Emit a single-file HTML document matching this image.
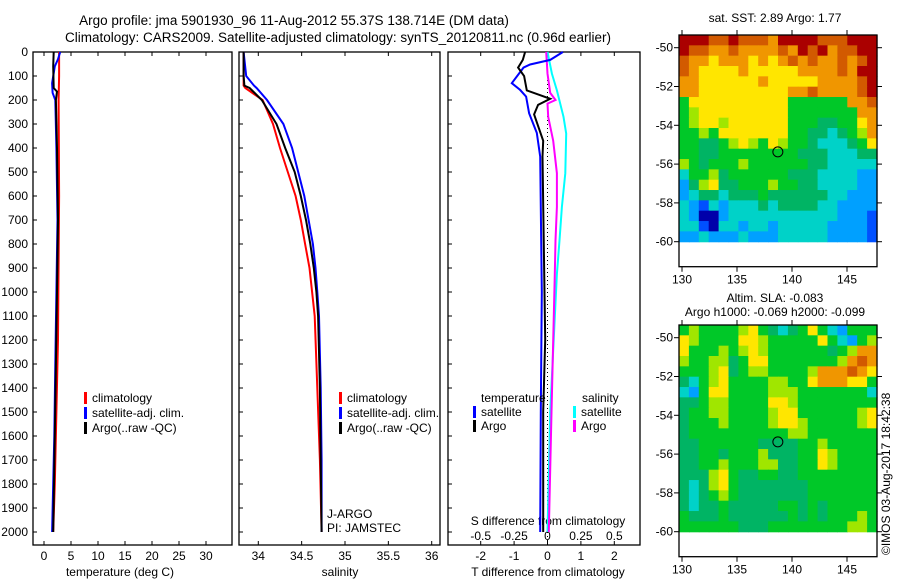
<!DOCTYPE html>
<html><head><meta charset="utf-8"><style>
body{margin:0;background:#fff}
svg{display:block;font-family:"Liberation Sans",sans-serif}
text{font-size:12px;fill:#000}
</style></head><body>
<svg id="c" width="900" height="580" viewBox="0 0 900 580">
<text x="294" y="25" text-anchor="middle" style="font-size:13.5px">Argo profile: jma 5901930_96 11-Aug-2012 55.37S 138.714E (DM data)</text>
<text x="338" y="42" text-anchor="middle" style="font-size:13.5px">Climatology: CARS2009. Satellite-adjusted climatology: synTS_20120811.nc (0.96d earlier)</text>
<text x="775" y="22" text-anchor="middle">sat. SST: 2.89 Argo: 1.77</text>
<text x="775" y="302" text-anchor="middle">Altim. SLA: -0.083</text>
<text x="775" y="316" text-anchor="middle">Argo h1000: -0.069 h2000: -0.099</text>
<text transform="translate(890,555) rotate(-90)">©IMOS 03-Aug-2017 18:42:38</text>
</svg>
<script>
const NS='http://www.w3.org/2000/svg';
const svg=document.getElementById('c');
function el(tag,attrs,parent){const e=document.createElementNS(NS,tag);for(const k in attrs)e.setAttribute(k,attrs[k]);(parent||svg).appendChild(e);return e;}
function txt(x,y,s,anchor,parent){const t=el('text',{x:x,y:y,'text-anchor':anchor||'start'},parent);t.textContent=s;return t;}

// ---- data ----
const depthTicks=[0,100,200,300,400,500,600,700,800,900,1000,1100,1200,1300,1400,1500,1600,1700,1800,1900,2000];
const tempTicks=[0,5,10,15,20,25,30];
const salTicks=[34,34.5,35,35.5,36];
const tdiffTicks=[-2,-1,0,1,2];
const sdiffTicks=[-0.5,-0.25,0,0.25,0.5];
const sdiffLabels=['-0.5','-0.25','0','0.25','0.5'];

const tClimD=[0,100,200,600,1200,1500,1800,2000];
const tClim=[2.8,2.8,2.7,2.8,2.6,2.3,2.0,1.7];
const tSatD=[0,30,60,130,170,200,400,700,1000,1300,1600,2000];
const tSat=[3.0,2.6,2.0,1.5,1.6,2.1,2.3,2.5,2.3,2.1,1.9,1.5];
const tArgoD=[0,60,150,165,200,400,700,1000,1300,1600,2000];
const tArgo=[1.8,1.7,1.8,2.4,2.2,2.4,2.6,2.4,2.2,2.0,1.7];

const sD=[0,100,140,150,200,300,400,500,600,700,800,900,1000,1100,1400,1700,2000];
const sClim=[33.83,33.83,33.83,33.85,34.05,34.17,34.25,34.34,34.43,34.49,34.54,34.59,34.62,34.65,34.68,34.71,34.73];
const sSat=[33.83,33.86,33.95,33.98,34.10,34.29,34.39,34.46,34.53,34.58,34.63,34.66,34.68,34.70,34.72,34.73,34.73];
const sArgo=[33.83,33.83,33.84,33.90,34.04,34.21,34.31,34.42,34.49,34.55,34.60,34.64,34.67,34.69,34.71,34.72,34.73];

const tdSatD=[0,33,52,65,130,158,186,255,337,436,1000,1500,2000];
const tdSat=[0.46,0.08,-0.52,-0.72,-1.07,-0.82,-0.64,-0.55,-0.32,-0.22,-0.17,-0.2,-0.22];
const tdArgoD=[0,33,65,100,160,180,195,220,260,370,435,1200,1500,2000];
const tdArgo=[-0.67,-0.74,-0.88,-0.7,-0.62,-0.22,0.08,-0.28,-0.4,-0.13,-0.15,-0.07,-0.13,-0.13];
const sdSatD=[0,90,160,270,340,505,645,785,925,1500,2000];
const sdSat=[0,0.033,0.07,0.12,0.14,0.133,0.108,0.09,0.07,0.02,0];
const sdArgoD=[0,90,170,200,215,270,370,505,645,785,925,1500,2000];
const sdArgo=[-0.01,0,0.02,0.06,0,0.005,0.043,0.07,0.07,0.06,0.055,0.03,0.01];

const sstGrid=[
"AAA99A9998AAAA999AAA","A99889888898A9A899AA","98878887878989889 9A",
"98777787777788889 AA","88777777877777888 9A","88777777777889888 9A",
"57777777777555555889","56777777777555555588","56776777777555445578","55657777777554434568",
"55445676576554333457","55445555555544433344","65455565555554433333","35564555555444333322",
"24674455565544333322","23443444544444433222","32132333434444332222","32002333333333332221",
"33103323323333322221","22322232223333322221"].map(s=>s.replace(' ','8'));
const slaGrid=[
"56555567543457532555","76555577655555753256","75556567655555545688","65566457755555556898",
"55567456655556888987","43567555566557888775","32577555566655555553","44566555577655555555",
"45566555567755555567","45556555567765555567","45555555555665555555","44555555444455655555",
"44554555644455765555","44556555664455765555","44467544554455555555","43467544444445555555",
"43456544444445555555","43445444445545455555","54445444444545455565","55555544455555555665"];
const cmap={'0':'#0000aa','1':'#0050ff','2':'#00a0ff','3':'#00d2c8','4':'#00b464','5':'#00c828','6':'#a0e600','7':'#ffe600','8':'#f09600','9':'#d25a00','A':'#aa0000'};
const mapTicksLat=[-50,-52,-54,-56,-58,-60];
const mapTicksLon=[130,135,140,145];
const argoLon=138.714, argoLat=-55.37;

// ---- axes ----
const yD=d=>52+d*0.24;
const xT=t=>44+t*5.4;
const xS=s=>258.3+(s-34)*86.7;
const xTD=t=>547.5+t*33.4;
const xSD=s=>547.5+s*133.6;

function panel(name,x0,x1){
  const g=el('g',{});
  
  
  el('rect',{x:x0,y:52,width:x1-x0,height:493,fill:'none',stroke:'#000','stroke-width':1.3},g);
  depthTicks.forEach(d=>{el('line',{x1:x0,x2:x0+4,y1:yD(d),y2:yD(d),stroke:'#000'},g);});
  return g;
}
function line(g,name,ds,vs,fx,color,w){
  const pts=ds.map((d,i)=>fx(vs[i]).toFixed(1)+','+yD(d).toFixed(1)).join(' ');
  const p=el('polyline',{points:pts,fill:'none',stroke:color,'stroke-width':w||2},g);
  
  
}
function legend(g,x,y,color,label,name){
  const r=el('rect',{x:x,y:y-6,width:3,height:12,fill:color},g);
  
  
  if(label){const t=txt(x+8,y+4,label,'start',g);
  
  }
}

// panel 1
const g1=panel('temperature-panel',33,232);
depthTicks.forEach(d=>{txt(28,yD(d)+4,String(d),'end',g1);});
tempTicks.forEach(v=>{el('line',{x1:xT(v),x2:xT(v),y1:52,y2:56,stroke:'#000'},g1);el('line',{x1:xT(v),x2:xT(v),y1:545,y2:541,stroke:'#000'},g1);txt(xT(v),560,String(v),'middle',g1);});
const xt1=txt(120,576,'temperature (deg C)','middle',g1);


line(g1,'temp-climatology',tClimD,tClim,xT,'#ff0000');
line(g1,'temp-satellite-adj',tSatD,tSat,xT,'#0000ff');
line(g1,'temp-argo',tArgoD,tArgo,xT,'#000000');
legend(g1,84,398,'#ff0000','climatology','legend-climatology');
legend(g1,84,413,'#0000ff','satellite-adj. clim.','legend-satellite');
legend(g1,84,428,'#000000','Argo(..raw -QC)','legend-argo');

// panel 2
const g2=panel('salinity-panel',239,440);
salTicks.forEach(v=>{el('line',{x1:xS(v),x2:xS(v),y1:52,y2:56,stroke:'#000'},g2);el('line',{x1:xS(v),x2:xS(v),y1:545,y2:541,stroke:'#000'},g2);txt(xS(v),560,String(v),'middle',g2);});
const xt2=txt(340,576,'salinity','middle',g2);


line(g2,'sal-climatology',sD,sClim,xS,'#ff0000');
line(g2,'sal-satellite-adj',sD,sSat,xS,'#0000ff');
line(g2,'sal-argo',sD,sArgo,xS,'#000000');
legend(g2,339,398,'#ff0000','climatology','legend2-climatology');
legend(g2,339,413,'#0000ff','satellite-adj. clim.','legend2-satellite');
legend(g2,339,428,'#000000','Argo(..raw -QC)','legend2-argo');
txt(327,518,'J-ARGO','start',g2);
txt(327,532,'PI: JAMSTEC','start',g2);

// panel 3
const g3=panel('difference-panel',448,640);
el('line',{x1:xTD(0),x2:xTD(0),y1:52,y2:545,stroke:'#000','stroke-dasharray':'1,3'},g3);
tdiffTicks.forEach(v=>{el('line',{x1:xTD(v),x2:xTD(v),y1:52,y2:56,stroke:'#000'},g3);el('line',{x1:xTD(v),x2:xTD(v),y1:545,y2:541,stroke:'#000'},g3);txt(xTD(v),560,String(v),'middle',g3);});
sdiffTicks.forEach((v,i)=>{txt(xSD(v),540,sdiffLabels[i],'middle',g3);});
txt(548,525,'S difference from climatology','middle',g3);
const xt3=txt(548,576,'T difference from climatology','middle',g3);


line(g3,'sdiff-satellite',sdSatD,sdSat,xSD,'#00ffff');
line(g3,'sdiff-argo',sdArgoD,sdArgo,xSD,'#ff00ff');
line(g3,'tdiff-satellite',tdSatD,tdSat,xTD,'#0000ff');
line(g3,'tdiff-argo',tdArgoD,tdArgo,xTD,'#000000');
txt(481,402,'temperature','start',g3);
legend(g3,473,412,'#0000ff','satellite','legend3-t-satellite');
legend(g3,473,426,'#000000','Argo','legend3-t-argo');
txt(582,402,'salinity','start',g3);
legend(g3,573,412,'#00ffff','satellite','legend3-s-satellite');
legend(g3,573,426,'#ff00ff','Argo','legend3-s-argo');

// maps
function map(name,top,grid){
  const g=el('g',{});
  
  
  const left=679,right=877,bottom=top+231.7,cbot=top+206.7;
  const lx=lon=>682+(lon-130)*11;
  const ly=lat=>top+12.7+(-50-lat)*19.4;
  const nr=grid.length,nc=grid[0].length;
  const cw=(right-left)/nc,ch=(cbot-top)/nr;
  for(let r=0;r<nr;r++)for(let c=0;c<nc;c++){
    const cell=el('rect',{x:(left+c*cw).toFixed(2),y:(top+r*ch).toFixed(2),width:(cw+0.6).toFixed(2),height:(ch+0.6).toFixed(2),fill:cmap[grid[r][c]]||'#00c828'},g);
    
    
  }
  el('rect',{x:left,y:top,width:right-left,height:bottom-top,fill:'none',stroke:'#000','stroke-width':1.3},g);
  mapTicksLat.forEach(v=>{el('line',{x1:left-5,x2:left,y1:ly(v),y2:ly(v),stroke:'#000'},g);el('line',{x1:right,x2:right+5,y1:ly(v),y2:ly(v),stroke:'#000'},g);txt(left-6,ly(v)+4,String(v),'end',g);});
  mapTicksLon.forEach(v=>{el('line',{x1:lx(v),x2:lx(v),y1:bottom,y2:bottom+5,stroke:'#000'},g);el('line',{x1:lx(v),x2:lx(v),y1:top,y2:top-5,stroke:'#000'},g);txt(lx(v),bottom+17,String(v),'middle',g);});
  const m=el('circle',{cx:lx(argoLon),cy:ly(argoLat),r:5,fill:'none',stroke:'#000','stroke-width':1},g);
  
  
}
map('sst-map',35,sstGrid);
map('sla-map',325,slaGrid);
</script>
</body></html>
